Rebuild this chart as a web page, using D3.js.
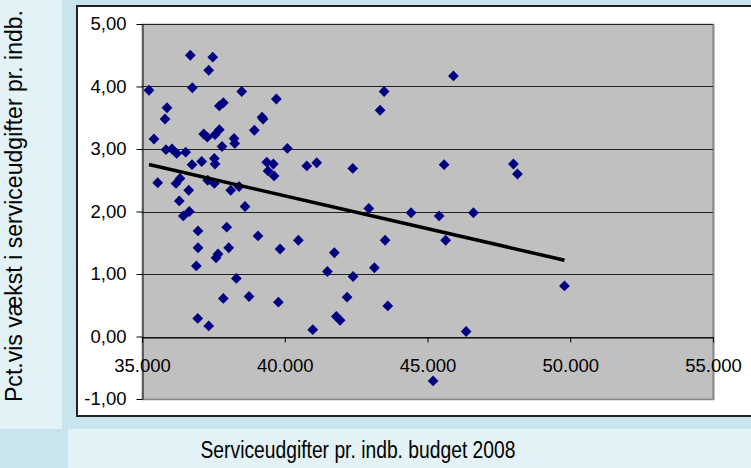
<!DOCTYPE html>
<html>
<head>
<meta charset="utf-8">
<title>Serviceudgifter</title>
<style>
  body { margin:0; padding:0; }
  svg { display:block; font-family: Arial, "Liberation Sans", sans-serif; }
</style>
</head>
<body>
<div id="chart"></div>
<script src="https://d3js.org/d3.v7.min.js"></script>
<script>
// serviceudgifter pr. indb. (kr.) and pct. vækst
var xVals = [35245, 36692, 37477, 37337, 36763, 38493, 39706, 43480, 43340, 45908,
             35876, 35806, 37709, 37849, 39205, 39240, 38935, 35420, 37162, 37288,
             37558, 37709, 37803, 38224, 38248, 40091, 35841, 36051, 36216, 36531,
             36752, 37092, 37533, 37558, 39369, 39601, 39415, 39625, 40771, 41121,
             42383, 45582, 48010, 48151, 35550, 36191, 36332, 37302, 37533, 38108,
             38399, 36636, 36307, 36447, 36657, 38609, 42944, 44426, 45407, 46609,
             36962, 37968, 39065, 40477, 43515, 45635, 36962, 38038, 39836, 41738,
             36903, 37593, 37663, 41493, 42393, 43140, 38304, 37849, 38749, 39776,
             42183, 43609, 36952, 37337, 40981, 41808, 41938, 45197, 46353, 49797];
var yVals = [3.94, 4.50, 4.47, 4.26, 3.98, 3.92, 3.80, 3.92, 3.62, 4.17,
             3.66, 3.48, 3.69, 3.74, 3.51, 3.48, 3.30, 3.16, 3.24, 3.19,
             3.23, 3.31, 3.04, 3.17, 3.09, 3.01, 2.99, 3.00, 2.93, 2.95,
             2.75, 2.80, 2.85, 2.76, 2.79, 2.76, 2.65, 2.57, 2.73, 2.78,
             2.69, 2.75, 2.76, 2.60, 2.46, 2.45, 2.53, 2.50, 2.45, 2.34,
             2.40, 2.34, 2.17, 1.93, 2.00, 2.08, 2.05, 1.98, 1.93, 1.98,
             1.69, 1.75, 1.61, 1.54, 1.54, 1.54, 1.42, 1.42, 1.40, 1.34,
             1.13, 1.26, 1.32, 1.04, 0.96, 1.10, 0.93, 0.61, 0.64, 0.55,
             0.63, 0.49, 0.29, 0.17, 0.11, 0.32, 0.26, -0.71, 0.08, 0.81];

// linear trend line as shown in the chart
var trendSlope = -0.00010515;
var trendIntercept = 6.457;

var xTicks = [35000, 40000, 45000, 50000, 55000];
var yTicks = [-1, 0, 1, 2, 3, 4, 5];

var xTitle = "Serviceudgifter pr. indb. budget 2008";
var yTitle = "Pct.vis vækst i serviceudgifter pr. indb.";

var W = 751, H = 468;
var plot = {left: 142, top: 24, right: 713, bottom: 399};

var da = d3.formatLocale({decimal: ",", thousands: ".", grouping: [3], currency: ["", " kr."], minus: "-"});

var svg = d3.select("#chart").append("svg")
    .attr("width", W)
    .attr("height", H);

// background panels
svg.append("rect").attr("width", W).attr("height", H).attr("fill", "#c8e5ee");
svg.append("rect").attr("x", 0).attr("y", 0).attr("width", 62).attr("height", 429).attr("fill", "#e2f2f6");
svg.append("rect").attr("x", 68).attr("y", 429).attr("width", W - 68).attr("height", H - 429).attr("fill", "#e2f2f6");
svg.append("rect").attr("x", 77).attr("y", 6).attr("width", W).attr("height", 410)
    .attr("fill", "#ffffff").attr("stroke", "#222").attr("stroke-width", 2);

var x = d3.scaleLinear().domain([35000, 55000]).range([plot.left, plot.right]);
var y = d3.scaleLinear().domain([-1, 5]).range([plot.bottom, plot.top]);

// plot area
svg.append("rect")
    .attr("x", plot.left).attr("y", plot.top)
    .attr("width", plot.right - plot.left).attr("height", plot.bottom - plot.top)
    .attr("fill", "#c0c0c0").attr("stroke", "#a8a8a8").attr("stroke-width", 1);
svg.append("line")
    .attr("x1", plot.right + 0.5).attr("x2", plot.right + 0.5)
    .attr("y1", plot.top).attr("y2", plot.bottom + 1)
    .attr("stroke", "#888").attr("stroke-width", 2);
svg.append("line")
    .attr("x1", plot.left).attr("x2", plot.right + 1)
    .attr("y1", plot.bottom + 0.5).attr("y2", plot.bottom + 0.5)
    .attr("stroke", "#888").attr("stroke-width", 1.5);

// gridlines
svg.append("g").selectAll("line")
    .data(yTicks.filter(function(d) { return d > -1; }))
    .enter().append("line")
    .attr("x1", plot.left).attr("x2", plot.right)
    .attr("y1", function(d) { return Math.round(y(d)) + 0.5; })
    .attr("y2", function(d) { return Math.round(y(d)) + 0.5; })
    .attr("stroke", "#222").attr("stroke-width", 1);

// y axis
var yAxis = svg.append("g")
    .attr("transform", "translate(" + (plot.left + 0.5) + ",0)")
    .call(d3.axisLeft(y).tickValues(yTicks).tickSize(6).tickSizeOuter(0).tickPadding(10)
        .tickFormat(da.format(",.2f")));
yAxis.selectAll("text").attr("font-size", 18.5).attr("fill", "#000")
    .attr("font-family", "Arial, 'Liberation Sans', sans-serif");
yAxis.selectAll("line, path").attr("stroke", "#000");

// x axis crosses at 0
var xAxis = svg.append("g")
    .attr("transform", "translate(0," + (Math.round(y(0)) + 0.5) + ")")
    .call(d3.axisBottom(x).tickValues(xTicks).tickSize(5).tickSizeOuter(0).tickPadding(16)
        .tickFormat(da.format(",")));
xAxis.selectAll("text").attr("font-size", 18.5).attr("fill", "#000")
    .attr("font-family", "Arial, 'Liberation Sans', sans-serif");
xAxis.selectAll("line, path").attr("stroke", "#000");

// points
var pts = xVals.map(function(d, i) { return [d, yVals[i]]; });
svg.append("g").selectAll("path")
    .data(pts)
    .enter().append("path")
    .attr("d", d3.symbol().type(d3.symbolSquare).size(58))
    .attr("transform", function(d) { return "translate(" + x(d[0]) + "," + y(d[1]) + ") rotate(45)"; })
    .attr("fill", "#000080");

// trend line
var ext = d3.extent(xVals);
svg.append("line")
    .attr("x1", x(ext[0])).attr("y1", y(trendIntercept + trendSlope * ext[0]))
    .attr("x2", x(ext[1])).attr("y2", y(trendIntercept + trendSlope * ext[1]))
    .attr("stroke", "#000").attr("stroke-width", 3.5);

// titles
svg.append("text")
    .attr("x", 358).attr("y", 452)
    .attr("text-anchor", "middle").attr("dominant-baseline", "middle")
    .attr("font-size", 23).attr("fill", "#000")
    .attr("textLength", 315).attr("lengthAdjust", "spacingAndGlyphs")
    .text(xTitle);

svg.append("text")
    .attr("transform", "translate(16,206) rotate(-90)")
    .attr("text-anchor", "middle").attr("dominant-baseline", "middle")
    .attr("font-size", 23).attr("fill", "#000")
    .attr("textLength", 392).attr("lengthAdjust", "spacingAndGlyphs")
    .text(yTitle);
</script>
</body>
</html>
